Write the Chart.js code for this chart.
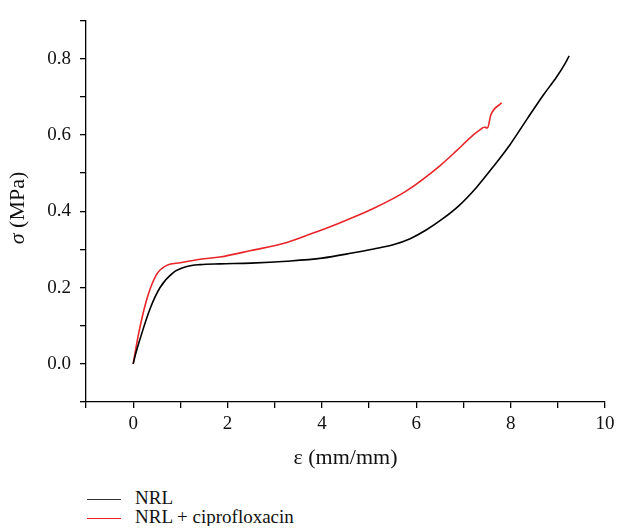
<!DOCTYPE html>
<html lang="en">
<head>
  <meta charset="UTF-8">
  <title>Stress-strain NRL</title>
  <script src="https://cdn.jsdelivr.net/npm/chart.js"></script>
  <style>
    body {
      margin: 0;
      background: #fff;
      font-family: 'Liberation Serif', serif;
    }
    #wrap {
      position: relative;
      width: 620px;
      height: 475px;
    }
    .legend {
      position: relative;
      margin-left: 87px;
      font-size: 19px;
      color: #111;
    }
    .legend div {
      height: 19px;
      line-height: 19px;
      white-space: nowrap;
    }
    .legend span.swatch {
      display: inline-block;
      width: 34px;
      height: 0;
      vertical-align: middle;
      margin-right: 14px;
      border-top: 1.5px solid #000;
    }
  </style>
</head>
<body>
  <div id="wrap"><canvas id="chart"></canvas></div>
  <div class="legend">
    <div style="margin-top:13px"><span class="swatch" style="border-color:#333"></span>NRL</div>
    <div><span class="swatch" style="border-color:#e8262a"></span>NRL + ciprofloxacin</div>
  </div>

  <script>
    // strain (mm/mm) vs stress (MPa)
    const nrlStrain = [0, 0.05, 0.15, 0.36, 0.57, 0.85, 1.14, 1.42, 1.84, 2.5, 3.26, 4, 4.67, 5.1, 5.51, 5.87, 6.2, 6.57, 6.9, 7.28, 7.64, 7.99, 8.34, 8.69, 8.97, 9.15, 9.24];
    const nrlStress = [0, 0.025, 0.067, 0.145, 0.2, 0.239, 0.255, 0.26, 0.262, 0.264, 0.269, 0.277, 0.291, 0.301, 0.312, 0.328, 0.35, 0.381, 0.414, 0.463, 0.518, 0.575, 0.64, 0.704, 0.751, 0.786, 0.807];

    const ciproStrain = [0, 0.11, 0.29, 0.5, 0.71, 1.0, 1.42, 1.84, 2.5, 3.26, 3.8, 4.39, 5.09, 5.8, 6.5, 6.85, 7.21, 7.35, 7.44, 7.51, 7.58, 7.81];
    const ciproStress = [0, 0.076, 0.17, 0.235, 0.258, 0.265, 0.274, 0.28, 0.297, 0.318, 0.342, 0.37, 0.407, 0.454, 0.519, 0.558, 0.6, 0.613, 0.62, 0.618, 0.652, 0.684];

    const xTitle = 'ε (mm/mm)';

    function pts(xs, ys) {
      return xs.map((x, i) => ({ x: x, y: ys[i] }));
    }

    const serif = "'Liberation Serif', serif";
    const fs = 19;
    const titleFs = 22;

    // y title with italic sigma
    const yTitlePlugin = {
      id: 'yTitle',
      afterDraw(chart) {
        const ctx = chart.ctx;
        ctx.save();
        ctx.translate(18, 208);
        ctx.rotate(-Math.PI / 2);
        ctx.fillStyle = '#111';
        ctx.textBaseline = 'middle';
        ctx.textAlign = 'left';
        ctx.font = 'italic ' + titleFs + 'px ' + serif;
        const a = 'σ';
        const wa = ctx.measureText(a).width;
        ctx.font = titleFs + 'px ' + serif;
        const b = ' (MPa)';
        const wb = ctx.measureText(b).width;
        const start = -(wa + wb) / 2;
        ctx.font = 'italic ' + titleFs + 'px ' + serif;
        ctx.fillText(a, start, 0);
        ctx.font = titleFs + 'px ' + serif;
        ctx.fillText(b, start + wa, 0);
        ctx.restore();
      }
    };

    new Chart(document.getElementById('chart'), {
      type: 'scatter',
      data: {
        datasets: [{
          label: 'NRL',
          data: pts(nrlStrain, nrlStress),
          showLine: true,
          borderColor: '#000',
          borderWidth: 1.6,
          pointRadius: 0,
          cubicInterpolationMode: 'monotone'
        }, {
          label: 'NRL + ciprofloxacin',
          data: pts(ciproStrain, ciproStress),
          showLine: true,
          borderColor: '#e8262a',
          borderWidth: 1.6,
          pointRadius: 0,
          cubicInterpolationMode: 'monotone'
        }]
      },
      options: {
        responsive: true,
        maintainAspectRatio: false,
        animation: false,
        layout: { padding: { top: 14, right: 15, left: 0, bottom: 0 } },
        plugins: {
          legend: { display: false },
          tooltip: { enabled: false }
        },
        scales: {
          x: {
            type: 'linear',
            min: -1,
            max: 10,
            afterFit(s) { s.height = 73; },
            border: { color: '#000', width: 1.3 },
            grid: { drawOnChartArea: false, tickLength: 6, color: '#000', lineWidth: 1.3 },
            ticks: {
              stepSize: 1,
              padding: 5,
              color: '#111',
              font: { family: serif, size: fs },
              maxRotation: 0,
              autoSkip: false,
              callback: v => (v >= 0 && v % 2 === 0) ? String(v) : ''
            },
            title: {
              display: true,
              text: xTitle,
              color: '#111',
              font: { family: serif, size: titleFs },
              padding: { top: 0 }
            }
          },
          y: {
            type: 'linear',
            min: -0.1,
            max: 0.9,
            afterFit(s) { s.width = 86; },
            border: { color: '#000', width: 1.3 },
            grid: { drawOnChartArea: false, tickLength: 6, color: '#000', lineWidth: 1.3 },
            ticks: {
              stepSize: 0.1,
              padding: 9,
              color: '#111',
              font: { family: serif, size: fs },
              autoSkip: false,
              callback: v => {
                const k = Math.round(v * 10);
                return (k >= 0 && k % 2 === 0 && k <= 8) ? (k / 10).toFixed(1) : '';
              }
            }
          }
        }
      },
      plugins: [yTitlePlugin]
    });
  </script>
</body>
</html>
